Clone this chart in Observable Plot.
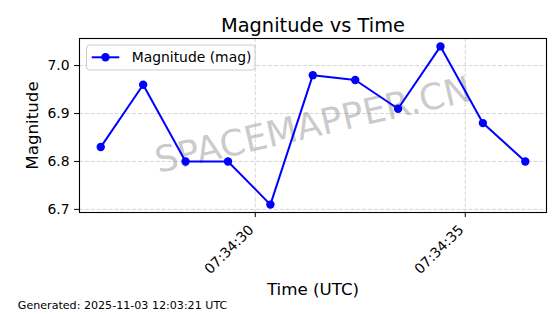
<!DOCTYPE html>
<html>
<head>
<meta charset="utf-8">
<script src="https://cdn.jsdelivr.net/npm/d3@7"></script>
<script src="https://cdn.jsdelivr.net/npm/@observablehq/plot@0.6"></script>
<style>
  html, body { margin: 0; padding: 0; background: white; }
</style>
</head>
<body>
<div id="chart"></div>
<script>
// ---- data ----
const dateStr = "2025-11-03";
const timeLabels = ["07:34:26.32", "07:34:27.33", "07:34:28.34", "07:34:29.35", "07:34:30.36", "07:34:31.37",
                    "07:34:32.38", "07:34:33.40", "07:34:34.41", "07:34:35.42", "07:34:36.43"];
const magnitudes = [6.83, 6.96, 6.80, 6.80, 6.71, 6.98, 6.97, 6.91, 7.04, 6.88, 6.80];
const xTickLabels = ["07:34:30", "07:34:35"];
const yTicks = [6.7, 6.8, 6.9, 7.0];
const titleText = "Magnitude vs Time";
const xLabel = "Time (UTC)";
const yLabel = "Magnitude";
const legendLabel = "Magnitude (mag)";
const watermark = "SPACEMAPPER.CN";
const footer = "Generated: 2025-11-03 12:03:21 UTC";

// ---- build ----
const parse = t => new Date(`${dateStr}T${t}Z`);
const data = timeLabels.map((t, i) => ({time: parse(t), mag: magnitudes[i]}));
const xTickDates = xTickLabels.map(parse);
const pad = ([a, b]) => { const r = b - a; return [a - r * 0.05, b + r * 0.05]; };
const xDomain = pad(d3.extent(data, d => +d.time)).map(v => new Date(v));
const yDomain = pad(d3.extent(magnitudes));

const font = "'DejaVu Sans', sans-serif";
const blue = "#0000ff";
const gridStyle = {stroke: "#b0b0b0", strokeOpacity: 0.65, strokeWidth: 0.8, strokeDasharray: "4.1,1.8"};

const svg = Plot.plot({
  width: 560,
  height: 314,
  marginTop: 38,
  marginRight: 14,
  marginBottom: 102,
  marginLeft: 79,
  style: {fontFamily: font, color: "black", background: "white", overflow: "visible"},
  x: {type: "utc", domain: xDomain},
  y: {domain: yDomain},
  marks: [
    Plot.gridY(yTicks, gridStyle),
    Plot.gridX(xTickDates, gridStyle),
    Plot.text([watermark], {frameAnchor: "middle", textAnchor: "middle", rotate: -13, fontSize: 36, fill: "gray", fillOpacity: 0.42}),
    Plot.line(data, {x: "time", y: "mag", stroke: blue, strokeWidth: 2}),
    Plot.dot(data, {x: "time", y: "mag", r: 4.2, fill: blue, stroke: null}),
    Plot.frame({stroke: "black", strokeWidth: 1.1}),
    Plot.axisY(yTicks, {tickSize: 5, tickPadding: 5, tickFormat: d => d.toFixed(1), fontSize: 13.9, label: null}),
    // tick marks only
    Plot.axisX(xTickDates, {tickSize: 5, tickFormat: () => "", label: null}),
    // rotated tick labels only
    Plot.axisX(xTickDates, {tickSize: 0, tickPadding: 15, dx: -4, tickRotate: -45, tickFormat: d3.utcFormat("%H:%M:%S"), fontSize: 13.9, label: null}),
    Plot.text([titleText], {frameAnchor: "top", dy: -7, lineAnchor: "bottom", fontSize: 19.4}),
    Plot.text([xLabel], {frameAnchor: "bottom", dy: 82, lineAnchor: "bottom", fontSize: 16.7}),
    Plot.text([yLabel], {frameAnchor: "left", textAnchor: "middle", dx: -53, rotate: -90, lineAnchor: "top", fontSize: 16.7}),
    Plot.text([footer], {frameAnchor: "bottom-left", textAnchor: "start", dx: -61.7, dy: 96.5, lineAnchor: "bottom", fontSize: 11.1})
  ]
});

// legend (matplotlib-style box, upper left)
const lg = d3.select(svg).append("g").attr("font-family", font);
lg.append("rect").attr("x", 86.5).attr("y", 45).attr("width", 168.5).attr("height", 25)
  .attr("rx", 3).attr("fill", "white").attr("fill-opacity", 0.8).attr("stroke", "#cccccc");
lg.append("line").attr("x1", 91.7).attr("x2", 119.3).attr("y1", 57.3).attr("y2", 57.3)
  .attr("stroke", blue).attr("stroke-width", 2);
lg.append("circle").attr("cx", 105.5).attr("cy", 57.3).attr("r", 4.2).attr("fill", blue);
lg.append("text").attr("x", 131.7).attr("y", 62.3).attr("font-size", 13.9).attr("fill", "black")
  .attr("text-anchor", "start").text(legendLabel);

document.getElementById("chart").appendChild(svg);
</script>
</body>
</html>
